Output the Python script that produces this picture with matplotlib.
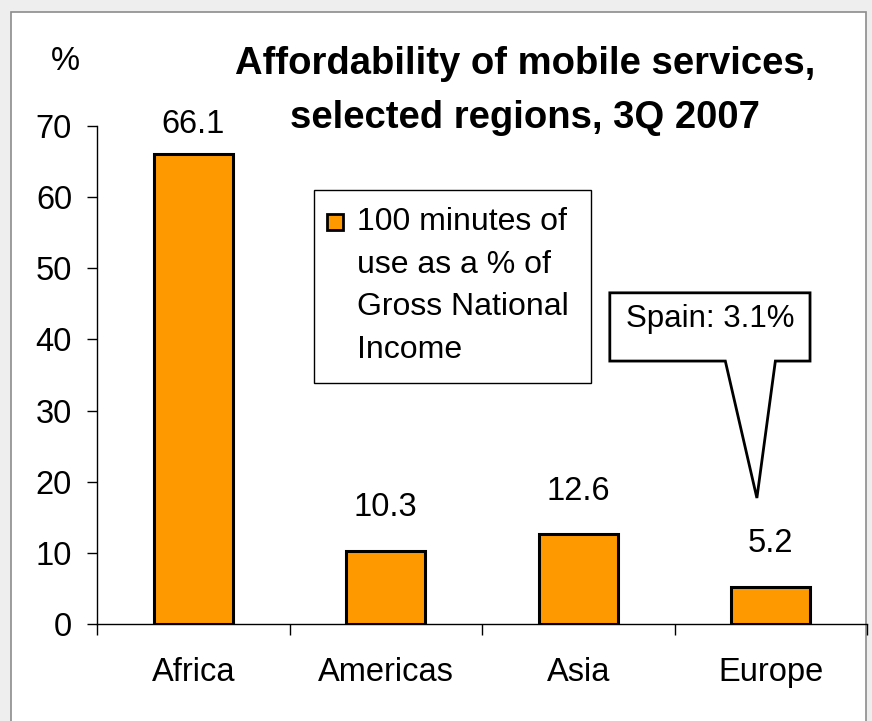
import matplotlib
matplotlib.use('Agg')
import matplotlib.pyplot as plt
from matplotlib.patches import Rectangle, Polygon

## Data
regions = ['Africa', 'Americas', 'Asia', 'Europe']
minutes_pct_gni = [66.1, 10.3, 12.6, 5.2]
y_ticks = [0, 10, 20, 30, 40, 50, 60, 70]
legend_label = '100 minutes of\nuse as a % of\nGross National\nIncome'
callout_text = 'Spain: 3.1%'
title_text = 'Affordability of mobile services,\nselected regions, 3Q 2007'

orange = '#FF9900'
plt.rcParams['font.family'] = ['Liberation Sans', 'DejaVu Sans']

fig = plt.figure(figsize=(8.72, 7.21), dpi=100, facecolor='#eeeeee')
# white slide panel with grey frame
fig.patches.append(Rectangle((11/872, -0.05), (866-11)/872, 1.05-12/721,
                             transform=fig.transFigure, facecolor='white',
                             edgecolor='#8c8c8c', linewidth=1.2, zorder=-5))

ax = fig.add_axes([97/872, 97/721, 770/872, 498/721])
ax.set_facecolor('none')

x = list(range(len(regions)))
ax.bar(x, minutes_pct_gni, width=0.41, color=orange, edgecolor='black',
       linewidth=2.2, zorder=3)

ax.set_xlim(-0.5, len(regions) - 0.5)
ax.set_ylim(0, 70)
ax.set_yticks(y_ticks)
ax.tick_params(axis='y', labelsize=23.5, length=7, width=1, pad=11)

# ticks between categories, labels at centres
ax.set_xticks([i - 0.5 for i in range(len(regions) + 1)])
ax.set_xticklabels([])
ax.set_xticks(x, minor=True)
ax.set_xticklabels(regions, minor=True, fontsize=23.5)
ax.tick_params(axis='x', which='major', length=8, width=1)
ax.tick_params(axis='x', which='minor', length=0, pad=24)

for s in ['top', 'right']:
    ax.spines[s].set_visible(False)
for s in ['left', 'bottom']:
    ax.spines[s].set_linewidth(1)

# value labels
for i, v in enumerate(minutes_pct_gni):
    off = 21 if v > 60 else 31
    ax.annotate(f'{v:.1f}', (i, v), xytext=(0, off), textcoords='offset points',
                ha='center', va='center', fontsize=23.5)

fig.text(65/872, 1 - 62/721, '%', ha='center', va='center', fontsize=23.5)
fig.text(525/872, 1 - 91/721, title_text, ha='center', va='center',
         fontsize=27.5, fontweight='bold', linespacing=1.62)

# legend box
ax.add_patch(Rectangle((0.282, 0.484), 0.642 - 0.282, 0.871 - 0.484,
                       transform=ax.transAxes, facecolor='white',
                       edgecolor='black', linewidth=1, zorder=4))
ax.add_patch(Rectangle((0.299, 0.791), 0.0205, 0.032, transform=ax.transAxes,
                       facecolor=orange, edgecolor='black', linewidth=2, zorder=5))
ax.text(0.338, 0.838, legend_label, transform=ax.transAxes, ha='left', va='top',
        fontsize=23, linespacing=1.56, zorder=5)

# callout for Spain
callout = [(0.666, 0.665), (0.926, 0.665), (0.926, 0.528), (0.881, 0.528),
           (0.857, 0.253), (0.816, 0.528), (0.666, 0.528)]
ax.add_patch(Polygon(callout, closed=True, transform=ax.transAxes,
                     facecolor='white', edgecolor='black', linewidth=2,
                     joinstyle='miter', zorder=4))
ax.text(0.796, 0.613, callout_text, transform=ax.transAxes, ha='center',
        va='center', fontsize=22.5, zorder=5)

fig.savefig('out.png', dpi=100, facecolor=fig.get_facecolor())
